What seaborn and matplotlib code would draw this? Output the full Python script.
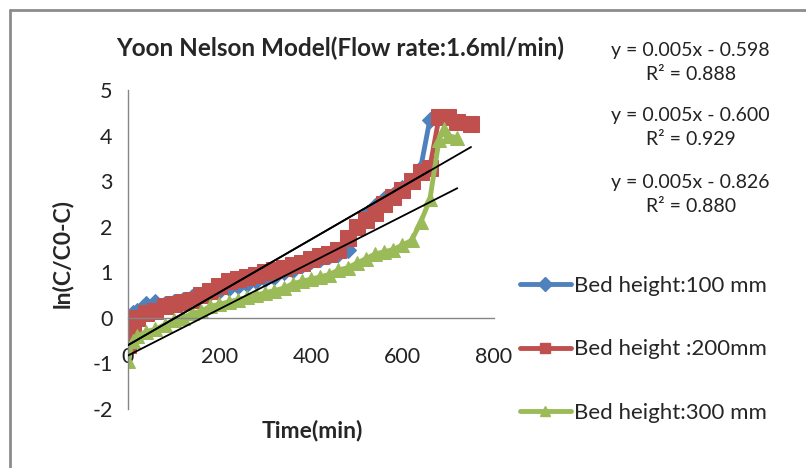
import matplotlib
matplotlib.use("Agg")
import matplotlib.pyplot as plt
from matplotlib.lines import Line2D
import numpy as np
import pandas as pd
import seaborn as sns

# --- data ---
time_100 = [0, 10, 20, 40, 60, 80, 100, 120, 140, 160, 180, 200, 220, 240, 260, 280,
            300, 320, 340, 360, 380, 400, 420, 440, 460, 480, 500, 520, 540, 560,
            580, 600, 620, 640, 660]
ln_100 = [0.0, 0.1, 0.15, 0.3, 0.35, 0.3, 0.35, 0.4, 0.45, 0.5, 0.55, 0.6, 0.65, 0.7,
          0.75, 0.8, 0.85, 0.9, 1.0, 1.05, 1.15, 1.25, 1.3, 1.35, 1.4, 1.5, 2.0, 2.25,
          2.45, 2.6, 2.7, 2.85, 3.0, 3.3, 4.35]

time_200 = [0, 10, 20, 40, 60, 80, 100, 120, 140, 160, 180, 200, 220, 240, 260, 280,
            300, 320, 340, 360, 380, 400, 420, 440, 460, 480, 500, 520, 540, 560,
            580, 600, 620, 640, 660, 680, 700, 720, 750]
ln_200 = [-0.6, -0.2, 0.0, 0.1, 0.15, 0.25, 0.3, 0.35, 0.4, 0.5, 0.6, 0.7, 0.8, 0.85,
          0.9, 0.95, 1.0, 1.05, 1.1, 1.15, 1.2, 1.3, 1.35, 1.4, 1.5, 1.75, 2.0, 2.15,
          2.3, 2.5, 2.65, 2.8, 3.0, 3.2, 3.3, 4.4, 4.4, 4.3, 4.25]

time_300 = [0, 10, 20, 40, 60, 80, 100, 120, 140, 160, 180, 200, 220, 240, 260, 280,
            300, 320, 340, 360, 380, 400, 420, 440, 460, 480, 500, 520, 540, 560,
            580, 600, 620, 640, 660, 680, 690, 700, 720]
ln_300 = [-0.95, -0.5, -0.4, -0.3, -0.25, -0.15, -0.05, 0.0, 0.1, 0.15, 0.25, 0.3,
          0.35, 0.4, 0.45, 0.5, 0.55, 0.6, 0.65, 0.75, 0.8, 0.85, 0.9, 0.95, 1.05,
          1.1, 1.2, 1.3, 1.4, 1.45, 1.5, 1.6, 1.7, 2.1, 2.6, 3.9, 4.15, 4.0, 3.95]

labels = ["Bed height:100 mm", "Bed height :200mm", "Bed height:300 mm"]
colors = ["#4F81BD", "#C0504D", "#9BBB59"]
markers = ["D", "s", "^"]
msizes = [8, 12, 10]

# linear trendlines (slope, intercept) as drawn; equations as printed
trend_slope = [0.0058, 0.0058, 0.0051]
trend_icept = [-0.598, -0.600, -0.826]
eq_text = ["y = 0.005x - 0.598\nR² = 0.888",
           "y = 0.005x - 0.600\nR² = 0.929",
           "y = 0.005x - 0.826\nR² = 0.880"]

series = [(time_100, ln_100), (time_200, ln_200), (time_300, ln_300)]

sns.set_style("white")
plt.rcParams["font.family"] = ["Lato", "DejaVu Sans"]
plt.rcParams["axes.unicode_minus"] = False

fig = plt.figure(figsize=(8.06, 4.68), dpi=100)
ax = fig.add_axes([0.1588, 0.126, 0.454, 0.6816])

for (t, v), lab, c, m, ms in zip(series, labels, colors, markers, msizes):
    df = pd.DataFrame({"t": t, "v": v})
    sns.lineplot(data=df, x="t", y="v", ax=ax, color=c, marker=m, markersize=ms,
                 markeredgecolor=c, linewidth=3.5, sort=False, estimator=None,
                 legend=False)

for (t, v), a, b in zip(series, trend_slope, trend_icept):
    xs = np.array([0, max(t)])
    ax.plot(xs, a * xs + b, color="black", linewidth=1.3, zorder=5)

ax.set_xlim(0, 800)
ax.set_ylim(-2, 5)
ax.set_xticks([0, 200, 400, 600, 800])
ax.set_yticks(range(-2, 6))

for s in ["top", "right"]:
    ax.spines[s].set_visible(False)
ax.spines["bottom"].set_position(("data", 0))
for s in ["left", "bottom"]:
    ax.spines[s].set_color("#868686")
    ax.spines[s].set_linewidth(1.0)
ax.tick_params(axis="both", which="both", direction="out", length=5,
               color="#868686", labelsize=15.5, labelcolor="#222222")
ax.tick_params(axis="x", pad=16)
ax.tick_params(axis="y", pad=6)
ax.grid(False)

ax.set_xlabel("")
ax.set_ylabel("")
fig.text(0.387, 0.081, "Time(min)", ha="center", va="center",
         fontsize=16.5, fontweight="bold")
fig.text(0.077, 0.458, "ln(C/C0-C)", ha="center", va="center", rotation=90,
         fontsize=16.5, fontweight="bold")
fig.text(0.422, 0.897, "Yoon Nelson Model(Flow rate:1.6ml/min)", ha="center",
         va="center", fontsize=17.5, fontweight="bold")

for txt, y in zip(eq_text, [0.866, 0.727, 0.584]):
    fig.text(0.857, y, txt, ha="center", va="center", fontsize=14,
             linespacing=1.5, color="#222222")

handles = [Line2D([0], [0], color=c, marker=m, markersize=7, linewidth=3.5)
           for c, m in zip(colors, markers)]
fig.legend(handles, labels, loc="upper left", bbox_to_anchor=(0.634, 0.43),
           frameon=False, fontsize=16, handlelength=2.3, handletextpad=0.15,
           labelspacing=1.97, borderaxespad=0)

# outer chart-area border (only top and left visible in the reference)
fig.add_artist(Line2D([0.0124, 0.0124], [0, 0.979], color="#8c8c8c", linewidth=2,
                      transform=fig.transFigure))
fig.add_artist(Line2D([0.0124, 1.0], [0.979, 0.979], color="#8c8c8c", linewidth=2,
                      transform=fig.transFigure))

fig.savefig("out.png", dpi=100)
